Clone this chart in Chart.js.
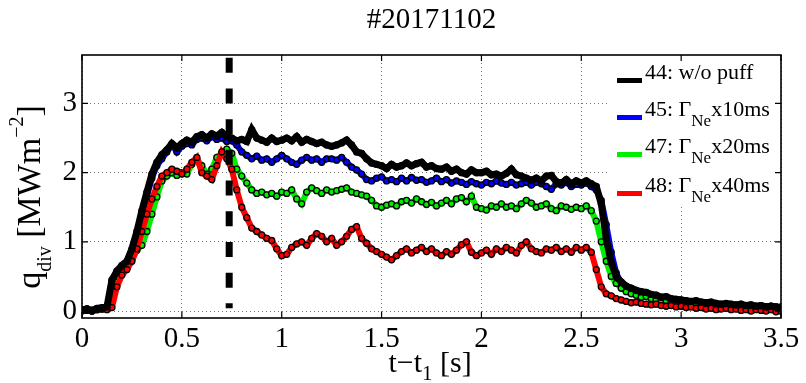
<!DOCTYPE html>
<html>
<head>
<meta charset="utf-8">
<script src="https://cdn.jsdelivr.net/npm/chart.js@4/dist/chart.umd.min.js"></script>
<style>
  html, body { margin: 0; padding: 0; background: #fff; overflow: hidden; }
  #wrap { width: 806px; height: 383px; position: relative; }
</style>
</head>
<body>
<div id="wrap"><canvas id="c"></canvas></div>
<script>
(function () {
  "use strict";

  const SERIF = "'Liberation Serif','Times New Roman',serif";

  // time axis: samples every 25 ms from t-t1 = 0 to 3.5 s
  const DT = 0.025;
  const T = Array.from({ length: 141 }, (_, i) => +(i * DT).toFixed(3));

  const XTICKS = [0, 0.5, 1, 1.5, 2, 2.5, 3, 3.5];
  const YTICKS = [0, 1, 2, 3];

  // #44 w/o puff
  const Q44 = [
    0.02, 0.03, 0.01, 0.04, 0.05, 0.06, 0.45, 0.58, 0.66, 0.72,
    0.9, 1.15, 1.45, 1.72, 1.98, 2.15, 2.26, 2.33, 2.42, 2.36,
    2.42, 2.47, 2.44, 2.52, 2.55, 2.5, 2.56, 2.53, 2.58, 2.52,
    2.5, 2.46, 2.48, 2.45, 2.62, 2.5, 2.47, 2.44, 2.5, 2.45,
    2.47, 2.5, 2.46, 2.52, 2.44, 2.48, 2.45, 2.42, 2.44, 2.4,
    2.38, 2.4, 2.43, 2.47, 2.4, 2.3, 2.28, 2.2, 2.14, 2.12,
    2.1, 2.06, 2.12, 2.08, 2.1, 2.14, 2.1, 2.13, 2.15, 2.08,
    2.1, 2.06, 2.05, 2.08, 2.02, 2.05, 2.0, 1.98, 2.04, 2.0,
    2.0, 2.02, 1.97, 1.98, 1.95, 1.99, 2.05, 1.97, 1.95, 1.92,
    1.89, 1.92, 1.88, 1.95, 1.96, 1.87, 1.85, 1.9, 1.84, 1.88,
    1.85, 1.88, 1.84, 1.8, 1.55, 1.05, 0.7, 0.5, 0.42, 0.36,
    0.33, 0.3, 0.28, 0.27, 0.24, 0.23, 0.2, 0.21, 0.18, 0.17,
    0.16, 0.15, 0.14, 0.15, 0.13, 0.12, 0.13, 0.11, 0.1, 0.11,
    0.1, 0.09, 0.1, 0.08, 0.09, 0.07, 0.08, 0.06, 0.07, 0.06, 0.05
  ];

  // #45 Ne x10ms
  const Q45 = [
    0.01, 0.02, 0.0, 0.03, 0.04, 0.05, 0.42, 0.55, 0.64, 0.7,
    0.86, 1.08, 1.38, 1.66, 1.92, 2.1, 2.2, 2.3, 2.4, 2.3,
    2.38, 2.42, 2.4, 2.48, 2.5, 2.46, 2.52, 2.48, 2.5, 2.45,
    2.46, 2.4, 2.3, 2.25, 2.2, 2.24, 2.18, 2.2, 2.15, 2.2,
    2.25, 2.2, 2.15, 2.12, 2.18, 2.22, 2.18, 2.2, 2.15, 2.2,
    2.2, 2.18, 2.22, 2.15, 2.08, 2.04, 1.98, 1.9, 1.88, 1.92,
    1.94, 1.88, 1.9, 1.87, 1.92, 1.88, 1.93, 1.89, 1.9, 1.86,
    1.88, 1.92, 1.87, 1.9, 1.85, 1.88, 1.86, 1.83, 1.87, 1.84,
    1.82, 1.86, 1.84, 1.88, 1.85, 1.83, 1.86, 1.82, 1.84, 1.86,
    1.82, 1.86, 1.84, 1.8, 1.76, 1.84, 1.82, 1.86, 1.8, 1.83,
    1.82, 1.85, 1.8, 1.75, 1.6, 1.25, 0.85, 0.55, 0.4, 0.33,
    0.3, 0.27, 0.25, 0.24, 0.22, 0.21, 0.19, 0.18, 0.17, 0.16,
    0.15, 0.14, 0.13, 0.13, 0.12, 0.11, 0.11, 0.1, 0.09, 0.1,
    0.09, 0.08, 0.09, 0.07, 0.08, 0.06, 0.07, 0.06, 0.05, 0.06, 0.04
  ];

  // #47 Ne x20ms
  const Q47 = [
    0.0, 0.01, 0.0, 0.02, 0.03, 0.04, 0.4, 0.5, 0.55, 0.62,
    0.75, 0.88, 0.95, 1.15, 1.4, 1.65, 1.88, 1.95, 2.0, 1.96,
    2.0, 1.98, 2.12, 2.2, 2.1, 1.98, 2.05, 2.22, 2.28, 2.34,
    2.28, 2.05, 1.95, 1.85, 1.75, 1.7, 1.72, 1.68, 1.7, 1.66,
    1.72, 1.7, 1.75, 1.62, 1.55, 1.72, 1.78, 1.74, 1.7, 1.75,
    1.72, 1.74, 1.76, 1.78, 1.72, 1.7, 1.68, 1.66, 1.6, 1.52,
    1.5, 1.53, 1.55, 1.52, 1.58, 1.6, 1.56, 1.62, 1.58, 1.54,
    1.57, 1.52, 1.56, 1.6, 1.55, 1.62, 1.64, 1.58, 1.66, 1.5,
    1.48, 1.46, 1.52, 1.5, 1.55, 1.5, 1.52, 1.48, 1.55, 1.6,
    1.56, 1.5, 1.52, 1.55, 1.48, 1.45, 1.52, 1.5, 1.47, 1.5,
    1.48, 1.52, 1.45, 1.3, 1.0, 0.72, 0.5, 0.4, 0.33, 0.28,
    0.25, 0.23, 0.2, 0.21, 0.18, 0.17, 0.16, 0.15, 0.14, 0.15,
    0.13, 0.12, 0.12, 0.11, 0.1, 0.11, 0.09, 0.1, 0.08, 0.09,
    0.08, 0.07, 0.08, 0.06, 0.07, 0.06, 0.05, 0.06, 0.07, 0.05, 0.06
  ];

  // #48 Ne x40ms
  const Q48 = [
    0.01, 0.03, 0.0, 0.02, 0.03, 0.02, 0.05, 0.35, 0.52, 0.6,
    0.72, 0.9, 1.15, 1.4, 1.62, 1.8, 1.95, 2.0, 2.05, 2.02,
    1.98, 2.05, 2.15, 2.22, 2.0, 1.95, 1.9, 2.1, 2.3, 2.2,
    2.05, 1.75, 1.5, 1.35, 1.2, 1.15, 1.1, 1.05, 1.02, 0.9,
    0.8, 0.82, 0.92, 0.97, 1.0, 0.95, 1.05, 1.12, 1.08, 1.0,
    1.05, 0.95, 1.0, 1.08, 1.18, 1.22, 1.05, 0.98, 0.9, 0.86,
    0.82, 0.78, 0.74, 0.8, 0.86, 0.9, 0.84, 0.88, 0.92, 0.86,
    0.9, 0.84, 0.8, 0.86, 0.82, 0.88, 0.96, 1.0, 0.85, 0.8,
    0.84, 0.88, 0.82, 0.9, 0.86, 0.92, 0.88, 0.84, 0.95, 1.0,
    0.9, 0.86, 0.84, 0.9, 0.88, 0.92, 0.86, 0.9, 0.85, 0.92,
    0.88, 0.92, 0.85, 0.6, 0.35, 0.25, 0.22, 0.18, 0.16, 0.14,
    0.12, 0.13, 0.11, 0.1, 0.09, 0.1, 0.08, 0.07, 0.08, 0.06,
    0.07, 0.05, 0.06, 0.04, 0.05, 0.03, 0.04, 0.02, 0.03, 0.04,
    0.02, 0.03, 0.01, 0.02, 0.0, 0.02, 0.01, 0.0, 0.02, -0.01, 0.0
  ];

  // vertical dashed marker (puff time)
  const PUFF_T = 0.737;
  const PUFF_Y = [3.66, 0.04];

  const COLORS = ["#000000", "#0000ff", "#00ee00", "#ff0000"];
  const LABEL_PRE  = ["44: w/o puff", "45: \u0393", "47: \u0393", "48: \u0393"];
  const LABEL_SUB  = ["", "Ne", "Ne", "Ne"];
  const LABEL_POST = ["", "x10ms", "x20ms", "x40ms"];

  function pts(vals) { return vals.map((v, i) => ({ x: T[i], y: v })); }

  function series(vals, color, width) {
    return {
      data: pts(vals),
      borderColor: color,
      borderWidth: width,
      pointRadius: 3,
      pointBorderWidth: 1.3,
      pointBorderColor: "#000",
      pointBackgroundColor: color,
      tension: 0
    };
  }

  // rich text: parts = [[text, size, dy]]
  function richWidth(ctx, parts) {
    let w = 0;
    parts.forEach(p => { ctx.font = p[1] + "px " + SERIF; w += ctx.measureText(p[0]).width; });
    return w;
  }
  function drawRich(ctx, parts, x, y) {
    parts.forEach(p => {
      ctx.font = p[1] + "px " + SERIF;
      ctx.fillText(p[0], x, y + p[2]);
      x += ctx.measureText(p[0]).width;
    });
  }

  const frame = {
    id: "frame",
    afterDatasetsDraw(chart) {
      const ctx = chart.ctx;
      const a = chart.chartArea;
      const xs = chart.scales.x, ys = chart.scales.y;
      ctx.save();

      // legend block (white, no border)
      ctx.fillStyle = "#fff";
      ctx.fillRect(610, 57, a.right - 611, 148);
      const base = [79, 116, 153, 192];
      for (let i = 0; i < 4; i++) {
        ctx.strokeStyle = COLORS[i];
        ctx.lineWidth = 5;
        ctx.beginPath();
        ctx.moveTo(617, base[i] + 1.5);
        ctx.lineTo(642, base[i] + 1.5);
        ctx.stroke();
        ctx.fillStyle = "#000";
        ctx.textBaseline = "alphabetic";
        ctx.textAlign = "left";
        drawRich(ctx, [[LABEL_PRE[i], 22, 0], [LABEL_SUB[i], 17, 10], [LABEL_POST[i], 22, 0]], 645, base[i]);
      }

      // axes box + inward ticks
      ctx.strokeStyle = "#000";
      ctx.lineWidth = 1.6;
      ctx.strokeRect(a.left, a.top, a.right - a.left, a.bottom - a.top);
      ctx.lineWidth = 1.2;
      ctx.beginPath();
      XTICKS.forEach(v => {
        const px = xs.getPixelForValue(v);
        ctx.moveTo(px, a.bottom); ctx.lineTo(px, a.bottom - 6);
        ctx.moveTo(px, a.top); ctx.lineTo(px, a.top + 6);
      });
      YTICKS.forEach(v => {
        const py = ys.getPixelForValue(v);
        ctx.moveTo(a.left, py); ctx.lineTo(a.left + 6, py);
        ctx.moveTo(a.right, py); ctx.lineTo(a.right - 6, py);
      });
      ctx.stroke();

      // x axis title: t-t_1 [s]
      ctx.fillStyle = "#000";
      const xl = [["t\u2212t", 30, 0], ["1", 21, 8], [" [s]", 30, 0]];
      const xw = richWidth(ctx, xl);
      drawRich(ctx, xl, 430 - xw / 2, 372);

      // y axis title: q_div [MWm^-2]
      const yl = [["q", 34, 0], ["div", 20, 11], [" [MWm", 34, 0], ["\u22122", 20, -17], ["]", 34, 0]];
      const yw = richWidth(ctx, yl);
      ctx.translate(40, 197);
      ctx.rotate(-Math.PI / 2);
      drawRich(ctx, yl, -yw / 2, 0);
      ctx.restore();
    }
  };

  Chart.defaults.font.family = SERIF;
  Chart.defaults.color = "#000";

  new Chart(document.getElementById("c"), {
    type: "line",
    data: {
      datasets: [
        {
          data: PUFF_Y.map(y => ({ x: PUFF_T, y })),
          borderColor: "#000",
          borderWidth: 7,
          borderDash: [15, 15.7],
          borderCapStyle: "butt",
          pointRadius: 0
        },
        series(Q44, COLORS[0], 7),
        series(Q48, COLORS[3], 6),
        series(Q47, COLORS[2], 6),
        series(Q45, COLORS[1], 6)
      ]
    },
    options: {
      responsive: true,
      maintainAspectRatio: false,
      animation: false,
      layout: { padding: { top: 0, right: 25, bottom: 0, left: 0 } },
      plugins: {
        legend: { display: false },
        tooltip: { enabled: false },
        title: {
          display: true,
          text: "#20171102",
          fullSize: false,
          color: "#000",
          font: { family: SERIF, size: 29, weight: "normal" },
          padding: { top: 3, bottom: 17.2 }
        }
      },
      scales: {
        x: {
          type: "linear",
          min: 0, max: 3.5,
          afterBuildTicks: s => { s.ticks = XTICKS.map(v => ({ value: v })); },
          afterFit: s => { s.height = 65; },
          ticks: { font: { size: 29 }, padding: 4, maxRotation: 0, autoSkip: false, callback: v => String(v) },
          grid: { color: "rgba(0,0,0,0.55)", lineWidth: 1, drawTicks: false },
          border: { display: false, dash: [1, 3] }
        },
        y: {
          type: "linear",
          min: -0.1, max: 3.7,
          afterBuildTicks: s => { s.ticks = YTICKS.map(v => ({ value: v })); },
          afterFit: s => { s.width = 82; },
          ticks: { font: { size: 29 }, padding: 5, callback: v => String(v) },
          grid: { color: "rgba(0,0,0,0.55)", lineWidth: 1, drawTicks: false },
          border: { display: false, dash: [1, 3] }
        }
      }
    },
    plugins: [frame]
  });
})();
</script>
</body>
</html>
